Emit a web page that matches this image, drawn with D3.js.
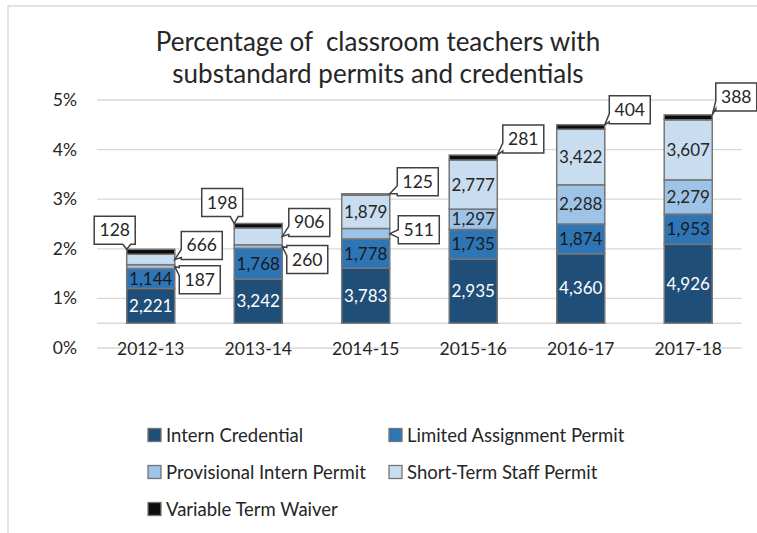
<!DOCTYPE html>
<html lang="en">
  <head>
    <meta charset="UTF-8" />
    <title>substandard permits</title>
    <style>
      body { margin: 0; background: #fff; }
      text { font-family: Lato, "Open Sans", sans-serif; fill: #262626; }
    </style>
  </head>
  <body>
    <svg width="757" height="533" id="svg"></svg>
    <script src="https://cdn.jsdelivr.net/npm/d3@7/dist/d3.min.js"></script>
    <script>
      // 数据: 段高度 (%) 和标签 (人数)
      const years = ["2012-13", "2013-14", "2014-15", "2015-16", "2016-17", "2017-18"];
      const seriesNames = [
        "Intern Credential",
        "Limited Assignment Permit",
        "Provisional Intern Permit",
        "Short-Term Staff Permit",
        "Variable Term Waiver",
      ];
      const internPct = [0.70, 0.89, 1.11, 1.29, 1.40, 1.59];
      const limitedPct = [0.40, 0.62, 0.59, 0.60, 0.60, 0.61];
      const provisionalPct = [0.08, 0.07, 0.21, 0.41, 0.79, 0.69];
      const shortTermPct = [0.21, 0.34, 0.67, 0.99, 1.12, 1.21];
      const variablePct = [0.10, 0.09, 0.03, 0.10, 0.09, 0.10];

      const internN = [2221, 3242, 3783, 2935, 4360, 4926];
      const limitedN = [1144, 1768, 1778, 1735, 1874, 1953];
      const provisionalN = [187, 260, 511, 1297, 2288, 2279];
      const shortTermN = [666, 906, 1879, 2777, 3422, 3607];
      const variableN = [128, 198, 125, 281, 404, 388];

      const yTicks = [0, 1, 2, 3, 4, 5];
      const axisCross = 0.5; // 横轴交叉在 0.5%

      const colors = ["#1f4e79", "#2e75b6", "#9dc3e6", "#c9ddf1", "#0d0d0d"];
      const pctSeries = [internPct, limitedPct, provisionalPct, shortTermPct, variablePct];
      const countSeries = [internN, limitedN, provisionalN, shortTermN, variableN];

      const svg = d3.select("#svg");
      const fmt = d3.format(",");

      // 外框
      svg.append("path")
        .attr("d", "M8,533 V6 H757")
        .attr("fill", "none")
        .attr("stroke", "#d9d9d9")
        .attr("stroke-width", 1.5);

      // 标题
      const title = svg.append("text")
        .attr("text-anchor", "middle")
        .attr("font-size", 26);
      title.append("tspan").attr("x", 378).attr("y", 51).attr("xml:space", "preserve")
        .text("Percentage of  classroom teachers with");
      title.append("tspan").attr("x", 378).attr("y", 83)
        .text("substandard permits and credentials");

      const x = d3.scaleBand().domain(years).range([97, 742]).paddingInner(0.553).paddingOuter(0.2765);
      const y = d3.scaleLinear().domain([0, 5]).range([348, 100]);

      // 网格线
      svg.append("g")
        .selectAll("line")
        .data(yTicks)
        .join("line")
        .attr("x1", 97).attr("x2", 742)
        .attr("y1", (d) => y(d)).attr("y2", (d) => y(d))
        .attr("stroke", "#d9d9d9")
        .attr("stroke-width", 1.3);

      svg.append("line")
        .attr("x1", 97).attr("x2", 742)
        .attr("y1", y(axisCross)).attr("y2", y(axisCross))
        .attr("stroke", "#d9d9d9")
        .attr("stroke-width", 1.5);

      svg.append("g")
        .selectAll("text")
        .data(yTicks)
        .join("text")
        .attr("x", 77)
        .attr("y", (d) => y(d) + 6)
        .attr("text-anchor", "end")
        .attr("font-size", 17.5)
        .text((d) => d + "%");

      svg.append("g")
        .selectAll("text")
        .data(years)
        .join("text")
        .attr("x", (d) => x(d) + x.bandwidth() / 2)
        .attr("y", y(0) + 7)
        .attr("text-anchor", "middle")
        .attr("font-size", 17.5)
        .text((d) => d);

      // 堆叠
      const rows = years.map((yr, i) => {
        const r = { year: yr };
        seriesNames.forEach((s, k) => (r[s] = pctSeries[k][i]));
        return r;
      });
      const stacked = d3.stack().keys(seriesNames)(rows);
      stacked.forEach((layer) => layer.forEach((p) => { p[0] += axisCross; p[1] += axisCross; }));

      const layers = svg.append("g")
        .selectAll("g")
        .data(stacked)
        .join("g")
        .attr("fill", (d, k) => colors[k]);

      layers.selectAll("rect")
        .data((d) => d)
        .join("rect")
        .attr("x", (d) => x(d.data.year))
        .attr("width", x.bandwidth())
        .attr("y", (d) => y(d[1]))
        .attr("height", (d) => y(d[0]) - y(d[1]))
        .attr("stroke", "#767676")
        .attr("stroke-width", 1.5);

      // 柱内标签
      const inside = [
        { k: 0, idx: [0, 1, 2, 3, 4, 5], color: "#fff" },
        { k: 1, idx: [0, 1, 2, 3, 4, 5], color: "#1a1a1a" },
        { k: 2, idx: [3, 4, 5], color: "#262626" },
        { k: 3, idx: [2, 3, 4, 5], color: "#262626" },
      ];
      inside.forEach((s) => {
        svg.append("g")
          .selectAll("text")
          .data(s.idx)
          .join("text")
          .attr("x", (i) => x(years[i]) + x.bandwidth() / 2)
          .attr("y", (i) => (y(stacked[s.k][i][0]) + y(stacked[s.k][i][1])) / 2 + 6)
          .attr("text-anchor", "middle")
          .attr("font-size", 17)
          .style("fill", s.color)
          .text((i) => fmt(countSeries[s.k][i]));
      });

      // 标注框 (callouts): anchor 在柱子边缘, dx/dy 为框中心偏移
      const callouts = [
        { k: 4, i: 0, edge: "left", at: "top", dx: -12, dy: -19 },
        { k: 4, i: 1, edge: "left", at: "top", dx: -12, dy: -21 },
        { k: 4, i: 2, edge: "right", at: "top", dx: 28, dy: -12 },
        { k: 4, i: 3, edge: "right", at: "top", dx: 26, dy: -16 },
        { k: 4, i: 4, edge: "right", at: "top", dx: 25, dy: -15 },
        { k: 4, i: 5, edge: "right", at: "top", dx: 24, dy: -18 },
        { k: 3, i: 0, edge: "right", at: "mid", dx: 27, dy: -14 },
        { k: 3, i: 1, edge: "right", at: "mid", dx: 27, dy: -14 },
        { k: 2, i: 0, edge: "right", at: "mid", dx: 25, dy: 13 },
        { k: 2, i: 1, edge: "right", at: "mid", dx: 25, dy: 13 },
        { k: 2, i: 2, edge: "right", at: "mid", dx: 29, dy: -4 },
      ];

      const cg = svg.append("g");
      callouts.forEach((c) => {
        const seg = stacked[c.k][c.i];
        const ax = c.edge === "left" ? x(years[c.i]) : x(years[c.i]) + x.bandwidth();
        const ay = c.at === "top" ? y(seg[1]) : (y(seg[0]) + y(seg[1])) / 2;
        const w = 41, h = 28;
        const cx = ax + c.dx, cy = ay + c.dy;
        const x0 = cx - w / 2, x1 = cx + w / 2, y0 = cy - h / 2, y1 = cy + h / 2;
        let d;
        if (ax < x0) {
          const by = Math.max(y0 + 6, Math.min(ay, y1 - 6));
          d = `M${x0},${y0} H${x1} V${y1} H${x0} V${by + 4} L${ax},${ay} L${x0},${by - 4} Z`;
        } else {
          const bx = Math.max(x0 + 6, Math.min(ax, x1 - 6));
          d = `M${x0},${y0} H${x1} V${y1} H${bx + 4} L${ax},${ay} L${bx - 4},${y1} H${x0} Z`;
        }
        cg.append("path")
          .attr("d", d)
          .attr("fill", "#fff")
          .attr("stroke", "#404040")
          .attr("stroke-width", 1.5)
          .attr("stroke-linejoin", "miter");
        cg.append("text")
          .attr("x", cx)
          .attr("y", cy + 6)
          .attr("text-anchor", "middle")
          .attr("font-size", 17.5)
          .text(fmt(countSeries[c.k][c.i]));
      });

      // 图例
      const legendPos = [
        [148, 435], [389, 435],
        [148, 472], [389, 472],
        [148, 509],
      ];
      const legend = svg.append("g")
        .selectAll("g")
        .data(seriesNames)
        .join("g")
        .attr("transform", (d, k) => `translate(${legendPos[k][0]},${legendPos[k][1]})`);
      legend.append("rect")
        .attr("x", 0).attr("y", -6.5)
        .attr("width", 13).attr("height", 13)
        .attr("fill", (d, k) => colors[k])
        .attr("stroke", "#767676")
        .attr("stroke-width", 1.3);
      legend.append("text")
        .attr("x", 18)
        .attr("y", 6.5)
        .attr("font-size", 18.5)
        .text((d) => d);
    </script>
  </body>
</html>
